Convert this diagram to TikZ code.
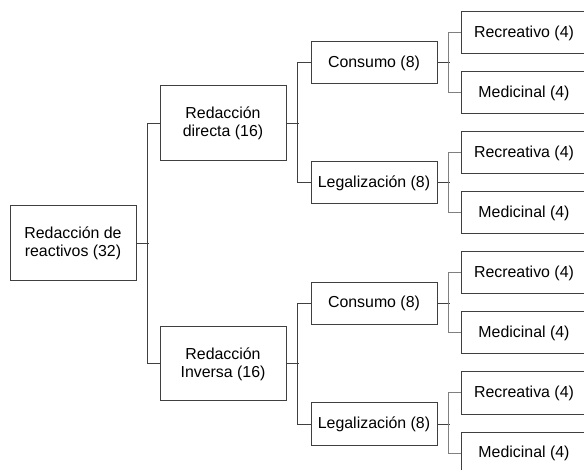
\documentclass[tikz,border=0pt]{standalone}
\usepackage{fontspec}
\setmainfont{Liberation Sans}
\definecolor{boxline}{HTML}{404040}
\definecolor{leafline}{HTML}{808080}
\begin{document}
\begin{tikzpicture}[x=1pt,y=-1pt,
  box/.style={draw=boxline, line width=1pt, fill=white, minimum width=126pt, align=center, inner sep=0pt,
    font=\fontsize{15.9}{18.4}\selectfont},
  bigbox/.style={box, minimum height=75pt},
  midbox/.style={box, minimum height=42pt},
  link/.style={draw=boxline, line width=1pt},
  leaflink/.style={draw=leafline, line width=1pt}]
\clip (0,0) rectangle (584,470);
\fill[white] (0,0) rectangle (584,470);
% root
\node[bigbox] (root) at (73,243.5) {Redacción de\\reactivos (32)};
% level 1
\node[bigbox] (dir) at (223,123.5) {Redacción\\directa (16)};
\node[bigbox, minimum height=74pt] (inv) at (223,364) {Redacción\\Inversa (16)};
% level 2
\node[midbox] (c1) at (374,63) {Consumo (8)};
\node[midbox] (g1) at (374,183) {Legalización (8)};
\node[midbox] (c2) at (374,303.5) {Consumo (8)};
\node[midbox] (g2) at (374,424) {Legalización (8)};
% leaves
\node[midbox] (a1) at (524,33) {Recreativo (4)};
\node[midbox] (a2) at (524,93) {Medicinal (4)};
\node[midbox] (b1) at (524,153) {Recreativa (4)};
\node[midbox] (b2) at (524,213) {Medicinal (4)};
\node[midbox] (e1) at (524,273) {Recreativo (4)};
\node[midbox] (e2) at (524,333) {Medicinal (4)};
\node[midbox] (f1) at (524,393) {Recreativa (4)};
\node[midbox] (f2) at (524,453) {Medicinal (4)};
% connectors
\draw[link] (root.east) -- +(12,0);
\draw[link] (dir.west) -- +(-12,0) |- (inv.west);
\draw[link] (dir.east) -- +(12,0);
\draw[link] (c1.west) -- +(-13,0) |- (g1.west);
\draw[link] (inv.east) -- +(12,0);
\draw[link] (c2.west) -- +(-13,0) |- (g2.west);
\foreach \p/\u/\v in {c1/a1/a2, g1/b1/b2, c2/e1/e2, g2/f1/f2}{
  \draw[link] (\p.east) -- +(12,0);
  \draw[leaflink] (\u.west) -- +(-12,0) |- (\v.west);
}
\end{tikzpicture}
\end{document}
